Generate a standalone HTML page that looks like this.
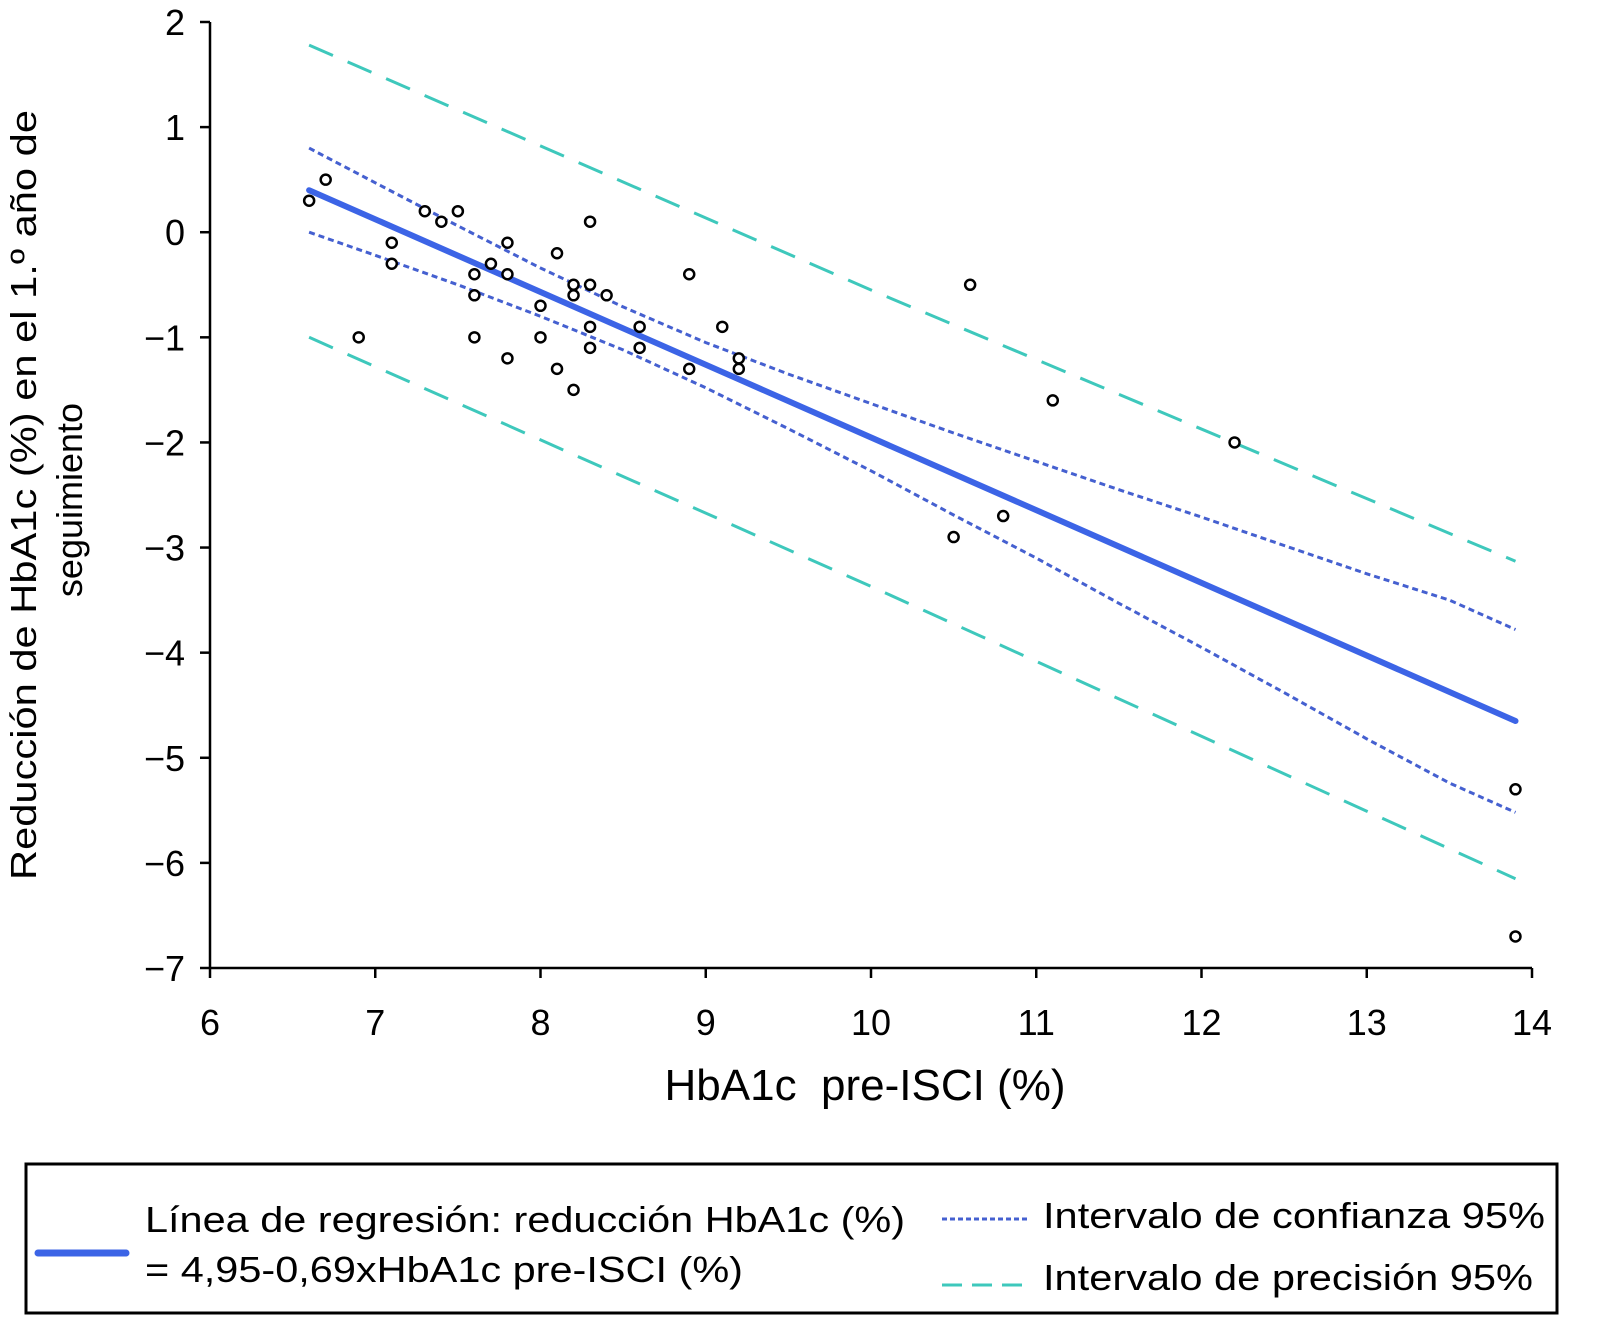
<!DOCTYPE html>
<html><head><meta charset="utf-8"><style>
html,body{margin:0;padding:0;background:#fff}
svg{display:block;font-family:"Liberation Sans",Arial,sans-serif}
</style></head><body>
<svg id="chart" width="1597" height="1339" viewBox="0 0 1597 1339" xmlns="http://www.w3.org/2000/svg">
<g id="plot"></g>
<g id="axes"></g>
<text x="865" y="1100" font-size="44" text-anchor="middle" xml:space="preserve">HbA1c  pre-ISCI (%)</text>
<g font-size="36" text-anchor="middle">
<text transform="translate(36,495) rotate(-90)" textLength="770" lengthAdjust="spacingAndGlyphs">Reducción de HbA1c (%) en el 1.º año de</text>
<text transform="translate(82,500) rotate(-90)">seguimiento</text>
</g>
<g>
<rect x="26" y="1164" width="1531" height="149" fill="none" stroke="#000" stroke-width="3"/>
<line x1="38" y1="1253" x2="126" y2="1253" stroke="#3c64e6" stroke-width="7" stroke-linecap="round"/>
<text x="145" y="1232" font-size="36" textLength="760" lengthAdjust="spacingAndGlyphs">Línea de regresión: reducción HbA1c (%)</text>
<text x="145" y="1282" font-size="36" textLength="598" lengthAdjust="spacingAndGlyphs">= 4,95-0,69xHbA1c pre-ISCI (%)</text>
<line x1="942" y1="1219" x2="1030" y2="1219" stroke="#4560d0" stroke-width="3" stroke-dasharray="5,3"/>
<text x="1043" y="1228" font-size="36" textLength="502" lengthAdjust="spacingAndGlyphs">Intervalo de confianza 95%</text>
<line x1="942" y1="1285" x2="1032" y2="1285" stroke="#3ec8bc" stroke-width="3" stroke-dasharray="20,10"/>
<text x="1043" y="1290" font-size="36" textLength="490" lengthAdjust="spacingAndGlyphs">Intervalo de precisión 95%</text>
</g>
</svg>
<script>
const xTicks = [6,7,8,9,10,11,12,13,14];
const yTicks = [2,1,0,-1,-2,-3,-4,-5,-6,-7];
const pointsX = [6.6,6.7,6.9,7.1,7.1,7.3,7.4,7.5,7.6,7.6,7.6,7.7,7.8,7.8,7.8,8.0,8.0,8.1,8.1,8.2,8.2,8.2,8.3,8.3,8.3,8.3,8.4,8.6,8.6,8.9,8.9,9.1,9.2,9.2,10.5,10.6,10.8,11.1,12.2,13.9,13.9];
const pointsY = [0.3,0.5,-1.0,-0.1,-0.3,0.2,0.1,0.2,-0.4,-0.6,-1.0,-0.3,-0.1,-0.4,-1.2,-0.7,-1.0,-0.2,-1.3,-0.5,-0.6,-1.5,0.1,-0.5,-0.9,-1.1,-0.6,-0.9,-1.1,-0.4,-1.3,-0.9,-1.2,-1.3,-2.9,-0.5,-2.7,-1.6,-2.0,-5.3,-6.7];
const regX = [6.6,13.9];
const regY = [0.4,-4.65];
const ciX = [6.6,7,7.5,8,8.5,9,9.5,10,10.5,11,11.5,12,12.5,13,13.5,13.9];
const ciUpper = [0.80,0.47,0.06,-0.34,-0.71,-1.05,-1.35,-1.63,-1.91,-2.18,-2.45,-2.71,-2.98,-3.25,-3.50,-3.78];
const ciLower = [0.00,-0.22,-0.50,-0.80,-1.12,-1.48,-1.87,-2.27,-2.69,-3.10,-3.53,-3.95,-4.38,-4.82,-5.24,-5.52];
const piX = [6.6,10,13.9];
const piUpper = [1.78,-0.55,-3.13];
const piLower = [-1.0,-3.37,-6.15];

const NS = "http://www.w3.org/2000/svg";
const X0=210, X1=1532, Y0=22, Y1=968;
const sx = v => X0 + (v-6)/(14-6)*(X1-X0);
const sy = v => Y0 + (2-v)/(2-(-7))*(Y1-Y0);
const plot = document.getElementById('plot');
const axes = document.getElementById('axes');
function mk(tag, attrs, parent){ const e=document.createElementNS(NS,tag); for(const k in attrs) e.setAttribute(k,attrs[k]); parent.appendChild(e); return e; }
function path(xs, ys){ return xs.map((x,i)=>(i?'L':'M')+sx(x).toFixed(1)+','+sy(ys[i]).toFixed(1)).join(''); }

let p;
p = mk('path',{d:path(piX,piUpper),fill:'none',stroke:'#3ec8bc','stroke-width':3,'stroke-dasharray':'26,16'},plot);


p = mk('path',{d:path(piX,piLower),fill:'none',stroke:'#3ec8bc','stroke-width':3,'stroke-dasharray':'26,16'},plot);


p = mk('path',{d:path(ciX,ciUpper),fill:'none',stroke:'#4560d0','stroke-width':3,'stroke-dasharray':'6,4'},plot);


p = mk('path',{d:path(ciX,ciLower),fill:'none',stroke:'#4560d0','stroke-width':3,'stroke-dasharray':'6,4'},plot);


p = mk('path',{d:path(regX,regY),fill:'none',stroke:'#3c64e6','stroke-width':6,'stroke-linecap':'round'},plot);



pointsX.forEach((x,i)=>{
  const c = mk('circle',{cx:sx(x),cy:sy(pointsY[i]),r:5,fill:'#fff',stroke:'#000','stroke-width':2.5},plot);
  
  
});

let a = mk('line',{x1:X0,y1:Y0,x2:X0,y2:Y1,stroke:'#000','stroke-width':2.5},axes);


a = mk('line',{x1:X0,y1:Y1,x2:X1,y2:Y1,stroke:'#000','stroke-width':2.5},axes);


xTicks.forEach(t=>{
  const l = mk('line',{x1:sx(t),y1:Y1,x2:sx(t),y2:Y1+10,stroke:'#000','stroke-width':2.5},axes);
  
  
  const tx = mk('text',{x:sx(t),y:Y1+67,'font-size':36,'text-anchor':'middle'},axes);
  tx.textContent = String(t);
  
  
});
yTicks.forEach(t=>{
  const l = mk('line',{x1:X0-10,y1:sy(t),x2:X0,y2:sy(t),stroke:'#000','stroke-width':2.5},axes);
  
  
  const tx = mk('text',{x:X0-25,y:sy(t)+13,'font-size':36,'text-anchor':'end'},axes);
  tx.textContent = t<0 ? '\u2212'+Math.abs(t) : String(t);
  
  
});
</script>
</body></html>
